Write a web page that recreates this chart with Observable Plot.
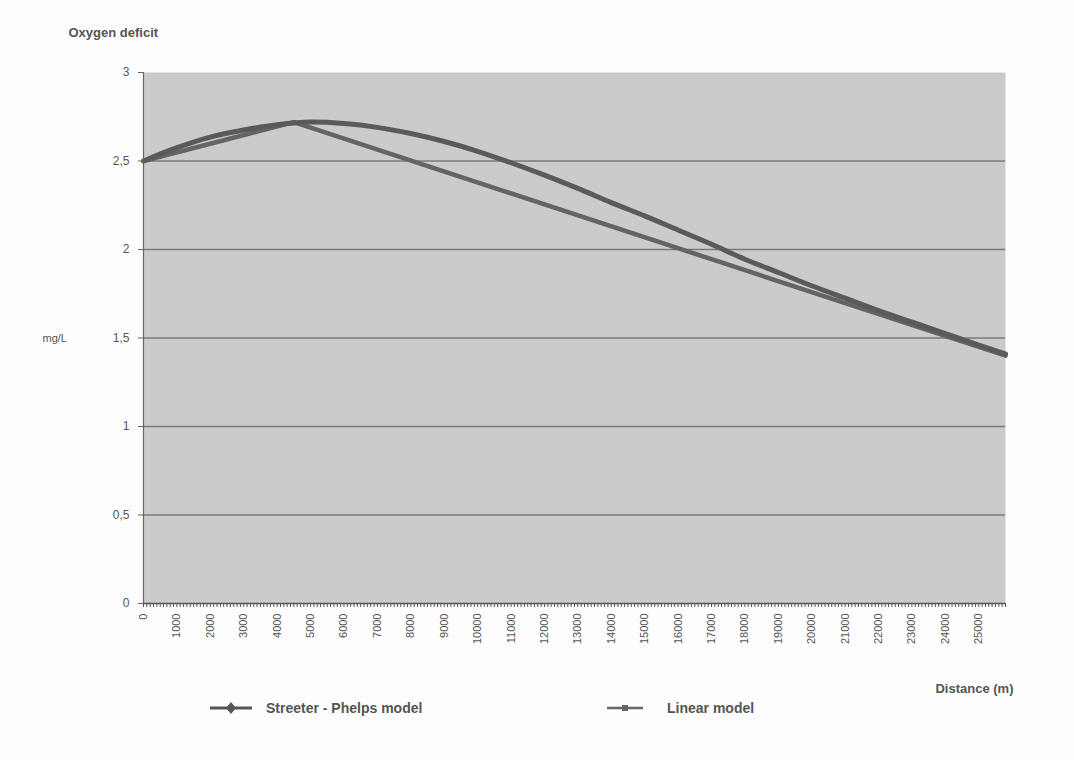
<!DOCTYPE html>
<html>
<head>
<meta charset="utf-8">
<script src="https://cdn.jsdelivr.net/npm/d3@7"></script>
<script src="https://cdn.jsdelivr.net/npm/@observablehq/plot@0.6"></script>
<style>
  html, body { margin: 0; padding: 0; background: #fdfdfd; }
  #wrap { position: relative; width: 1074px; height: 760px; font-family: "Liberation Sans", Arial, sans-serif; }
  #legend { position: absolute; left: 0; top: 696px; width: 1074px; height: 30px; color: #555; font-weight: bold; font-size: 14px; }
  .item { position: absolute; top: 0; display: flex; align-items: center; height: 24px; }
  .item svg { margin-right: 14px; }
</style>
</head>
<body>
<div id="wrap">
  <div id="chart"></div>
  <div id="legend">
    <div class="item" style="left:210px">
      <svg width="42" height="14"><line x1="0" y1="7" x2="42" y2="7" stroke="#555" stroke-width="3"/><path d="M21 1 L26 7 L21 13 L16 7 Z" fill="#555"/></svg>
      <span>Streeter - Phelps model</span>
    </div>
    <div class="item" style="left:607px">
      <svg width="36" height="14"><line x1="0" y1="7" x2="36" y2="7" stroke="#666" stroke-width="2.5"/><rect x="15" y="4" width="6" height="6" fill="#666"/></svg>
      <span style="margin-left:10px">Linear model</span>
    </div>
  </div>
</div>
<script>
// Distance (m) and oxygen deficit (mg/L) – Streeter-Phelps model
const spDistance = [0, 1000, 2000, 3000, 4000, 5000, 6000, 7000, 8000, 9000, 10000, 11000, 12000, 13000, 14000, 15000, 16000, 17000, 18000, 19000, 20000, 21000, 22000, 23000, 24000, 25000, 25800];
const spDeficit  = [2.50, 2.575, 2.635, 2.675, 2.705, 2.72, 2.712, 2.69, 2.655, 2.61, 2.555, 2.49, 2.42, 2.345, 2.265, 2.19, 2.11, 2.03, 1.945, 1.87, 1.795, 1.725, 1.655, 1.59, 1.525, 1.46, 1.41];
// Linear model
const linDistance = [0, 4500, 25800];
const linDeficit  = [2.50, 2.72, 1.40];
// Axis ticks
const xTicks = [0, 1000, 2000, 3000, 4000, 5000, 6000, 7000, 8000, 9000, 10000, 11000, 12000, 13000, 14000, 15000, 16000, 17000, 18000, 19000, 20000, 21000, 22000, 23000, 24000, 25000];
const yTicks = [0, 0.5, 1, 1.5, 2, 2.5, 3];
const gridValues = [0.5, 1, 1.5, 2, 2.5];
const xMinorStep = 100;

const sp = spDistance.map((d, i) => ({d, v: spDeficit[i]}));
const lin = linDistance.map((d, i) => ({d, v: linDeficit[i]}));
const minorTicks = d3.range(0, 25800 + 1, xMinorStep);

const fmtY = d => String(d).replace(".", ",");

const chart = Plot.plot({
  width: 1074,
  height: 700,
  marginLeft: 143,
  marginRight: 69,
  marginTop: 72,
  marginBottom: 97,
  style: {fontFamily: "Liberation Sans, Arial, sans-serif", color: "#555", background: "transparent"},
  x: {domain: [0, 25800]},
  y: {domain: [0, 3]},
  marks: [
    Plot.frame({fill: "#cbcbcb", stroke: null}),
    Plot.ruleY(gridValues, {stroke: "#7a7a7a", strokeWidth: 1.5}),
    Plot.line(lin, {x: "d", y: "v", stroke: "#646464", strokeWidth: 4.5, strokeLinejoin: "round", strokeLinecap: "round"}),
    Plot.line(sp, {x: "d", y: "v", curve: "monotone-x", stroke: "#5a5a5a", strokeWidth: 5, strokeLinejoin: "round", strokeLinecap: "round"}),
    Plot.ruleY([0], {stroke: "#555", strokeWidth: 1.5}),
    Plot.ruleX([0], {stroke: "#666", strokeWidth: 1.2}),
    Plot.axisY({ticks: yTicks, tickFormat: fmtY, tickSize: 5, tickPadding: 9, fontSize: 12, label: null, stroke: "#666"}),
    Plot.axisX({ticks: minorTicks, tickFormat: () => "", tickSize: 4, label: null, stroke: "#555"}),
    Plot.axisX({ticks: xTicks, tickFormat: d => String(d), tickSize: 0, tickPadding: 10, tickRotate: -90, fontSize: 11, label: null}),
    Plot.text(["Oxygen deficit"], {frameAnchor: "top-left", dx: -75, dy: -45, textAnchor: "start", fontSize: 13, fontWeight: "bold", fill: "#555"}),
    Plot.text(["mg/L"], {y: [1.5], frameAnchor: "left", dx: -101, textAnchor: "start", fontSize: 11, fill: "#555"}),
    Plot.text(["Distance (m)"], {frameAnchor: "bottom-right", dx: 8, dy: 89, textAnchor: "end", fontSize: 13, fontWeight: "bold", fill: "#555"})
  ]
});
document.getElementById("chart").appendChild(chart);
</script>
</body>
</html>
